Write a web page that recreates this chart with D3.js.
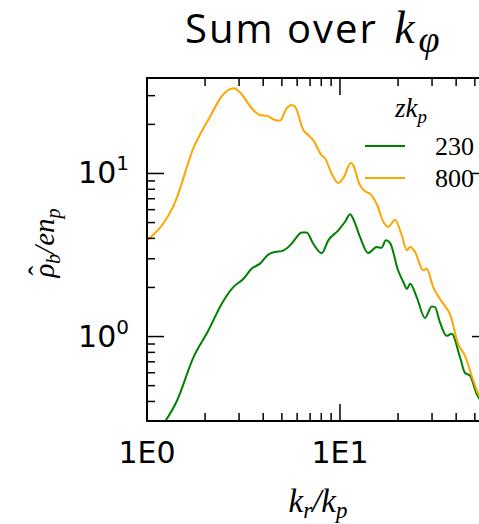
<!DOCTYPE html>
<html>
<head>
<meta charset="utf-8">
<script src="https://cdn.jsdelivr.net/npm/d3@7"></script>
<style>
  body { margin: 0; background: #fff; }
  svg { display: block; }
  .serif { font-family: "Liberation Serif", "DejaVu Serif", serif; }
</style>
</head>
<body>
<svg id="chart" width="479" height="524"></svg>
<script>
// k_r / k_p samples and spectra
const kr230 = [1.215, 1.43, 1.74, 2.08, 2.44, 2.80, 3.16, 3.49, 3.85, 4.25, 4.60, 4.99, 5.62, 5.97, 6.33, 6.72, 7.27, 8.04, 8.70, 9.80, 10.6, 11.3, 11.7, 12.7, 14.0, 15.5, 16.4, 17.3, 18.2, 20.0, 21.3, 22.2, 23.1, 25.0, 27.6, 29.9, 31.0, 33.0, 35.7, 37.9, 41.9, 44.4, 47.2, 51.1, 54.0];
const rho230 = [0.29, 0.404, 0.746, 1.09, 1.59, 2.01, 2.26, 2.61, 2.80, 3.18, 3.30, 3.34, 3.71, 4.08, 4.34, 4.34, 3.71, 3.25, 3.89, 4.48, 5.04, 5.62, 5.28, 4.08, 3.25, 3.54, 3.50, 3.89, 3.74, 2.55, 2.16, 1.96, 2.11, 1.74, 1.30, 1.53, 1.52, 1.22, 1.01, 1.04, 0.746, 0.60, 0.576, 0.444, 0.40];

const kr800 = [1.0, 1.40, 1.74, 2.12, 2.47, 2.82, 3.03, 3.49, 3.85, 4.17, 4.60, 4.89, 5.29, 5.62, 5.85, 6.46, 6.85, 7.27, 8.04, 8.36, 9.05, 9.80, 10.49, 11.36, 11.7, 12.6, 13.7, 14.3, 15.5, 16.8, 17.8, 19.3, 20.9, 22.2, 23.1, 24.5, 27.0, 28.1, 30.4, 34.3, 37.1, 41.0, 44.4, 49.1, 52.1, 54.0];
const rho800 = [3.89, 6.69, 14.3, 22.3, 30.3, 33.3, 31.5, 25.1, 22.8, 22.6, 21.3, 21.1, 25.1, 26.3, 25.7, 18.5, 17.2, 16.0, 12.9, 12.4, 10.0, 8.75, 9.53, 11.6, 11.3, 8.6, 7.7, 7.5, 6.5, 5.04, 4.70, 5.21, 4.18, 3.38, 3.54, 3.30, 2.55, 2.61, 2.01, 1.59, 1.38, 0.90, 0.764, 0.537, 0.444, 0.42];

const seriesNames = ["230", "800"];
const seriesColors = ["#008000", "#ffa500"];

const svg = d3.select("#chart");
const m = {left: 147, right: 489, top: 78, bottom: 421};

const x = d3.scaleLog().domain([1, 59.2]).range([m.left, m.right]);
const y = d3.scaleLog().domain([0.3035, 38.5]).range([m.bottom, m.top]);

svg.append("clipPath").attr("id", "plotclip")
  .append("rect").attr("x", m.left).attr("y", m.top)
  .attr("width", m.right - m.left).attr("height", m.bottom - m.top);

// curves
const line = d3.line().x(d => x(d[0])).y(d => y(d[1])).curve(d3.curveMonotoneX);
const series = [d3.zip(kr230, rho230), d3.zip(kr800, rho800)];
svg.append("g").attr("clip-path", "url(#plotclip)")
  .selectAll("path").data(series).enter()
  .append("path")
  .attr("d", line)
  .attr("fill", "none")
  .attr("stroke", (d, i) => seriesColors[i])
  .attr("stroke-width", 2)
  .attr("stroke-linejoin", "round");

// inward ticks on all four sides
const isMajor = v => Math.abs(Math.log10(v) - Math.round(Math.log10(v))) < 1e-6;
const xt = x.ticks(), yt = y.ticks();
const bigT = 17, smallT = 8;
const tickG = svg.append("g").attr("stroke", "#000").attr("stroke-width", 1.5);
tickG.selectAll(".xb").data(xt).enter().append("line")
  .attr("x1", d => x(d)).attr("x2", d => x(d))
  .attr("y1", m.bottom).attr("y2", d => m.bottom - (isMajor(d) ? bigT : smallT));
tickG.selectAll(".xt").data(xt).enter().append("line")
  .attr("x1", d => x(d)).attr("x2", d => x(d))
  .attr("y1", m.top).attr("y2", d => m.top + (isMajor(d) ? bigT : smallT));
tickG.selectAll(".yl").data(yt).enter().append("line")
  .attr("y1", d => y(d)).attr("y2", d => y(d))
  .attr("x1", m.left).attr("x2", d => m.left + (isMajor(d) ? bigT : smallT));
tickG.selectAll(".yr").data(yt).enter().append("line")
  .attr("y1", d => y(d)).attr("y2", d => y(d))
  .attr("x1", m.right).attr("x2", d => m.right - (isMajor(d) ? bigT : smallT));

// frame
svg.append("rect").attr("x", m.left).attr("y", m.top)
  .attr("width", m.right - m.left).attr("height", m.bottom - m.top)
  .attr("fill", "none").attr("stroke", "#000").attr("stroke-width", 2);

// x tick labels
svg.selectAll(".xl").data(xt.filter(isMajor)).enter().append("text")
  .attr("x", d => x(d)).attr("y", 463)
  .attr("text-anchor", "middle")
  .style("font-family", "DejaVu Sans").style("font-size", "30px")
  .text(d => "1E" + Math.round(Math.log10(d)));

// y tick labels 10^n
const yl = svg.selectAll(".ylab").data(yt.filter(isMajor)).enter().append("text")
  .attr("x", 129).attr("y", d => y(d) + 10)
  .attr("text-anchor", "end")
  .style("font-family", "DejaVu Sans").style("font-size", "30px");
yl.append("tspan").text("10");
yl.append("tspan").attr("dy", -13).style("font-size", "20px")
  .text(d => Math.round(Math.log10(d)));

// axis labels
const ylab = svg.append("text").attr("class", "serif")
  .attr("transform", "translate(54,243) rotate(-90)")
  .attr("text-anchor", "middle").style("font-size", "29px").style("font-style", "italic");
ylab.append("tspan").text("ρ");
ylab.append("tspan").attr("dx", -12).attr("dy", -5).style("font-style", "normal").text("ˆ");
ylab.append("tspan").attr("dx", 2).attr("dy", 11).style("font-size", "20px").text("b");
ylab.append("tspan").attr("dy", -6).text("/en");
ylab.append("tspan").attr("dy", 6).style("font-size", "20px").text("p");

const xlab = svg.append("text").attr("class", "serif")
  .attr("x", 318).attr("y", 512)
  .attr("text-anchor", "middle").style("font-size", "33px").style("font-style", "italic");
xlab.append("tspan").text("k");
xlab.append("tspan").attr("dy", 6).style("font-size", "23px").text("r");
xlab.append("tspan").attr("dy", -6).text("/k");
xlab.append("tspan").attr("dy", 6).style("font-size", "23px").text("p");

// title
const title = svg.append("text").attr("x", 185).attr("y", 43)
  .style("font-family", "Open Sans").style("font-size", "40px");
title.append("tspan").style("letter-spacing", "2px").text("Sum over ");
title.append("tspan").attr("class", "serif").attr("dx", 4).style("font-style", "italic")
  .style("font-size", "46px").text("k");
title.append("tspan").attr("class", "serif").attr("dx", 4).style("font-style", "italic")
  .attr("dy", 9).style("font-size", "38px").text("φ");

// legend
const lt = svg.append("text").attr("class", "serif")
  .attr("x", 395).attr("y", 117).style("font-size", "27px").style("font-style", "italic");
lt.append("tspan").text("zk");
lt.append("tspan").attr("dy", 6).style("font-size", "19px").text("p");

const leg = svg.selectAll(".leg").data(seriesNames).enter().append("g")
  .attr("transform", (d, i) => `translate(0,${146 + i * 32})`);
leg.append("line").attr("x1", 365).attr("x2", 405)
  .attr("stroke", (d, i) => seriesColors[i]).attr("stroke-width", 2);
leg.append("text").attr("class", "serif").attr("x", 435).attr("y", 9)
  .style("font-size", "26px").text(d => d);
</script>
</body>
</html>
